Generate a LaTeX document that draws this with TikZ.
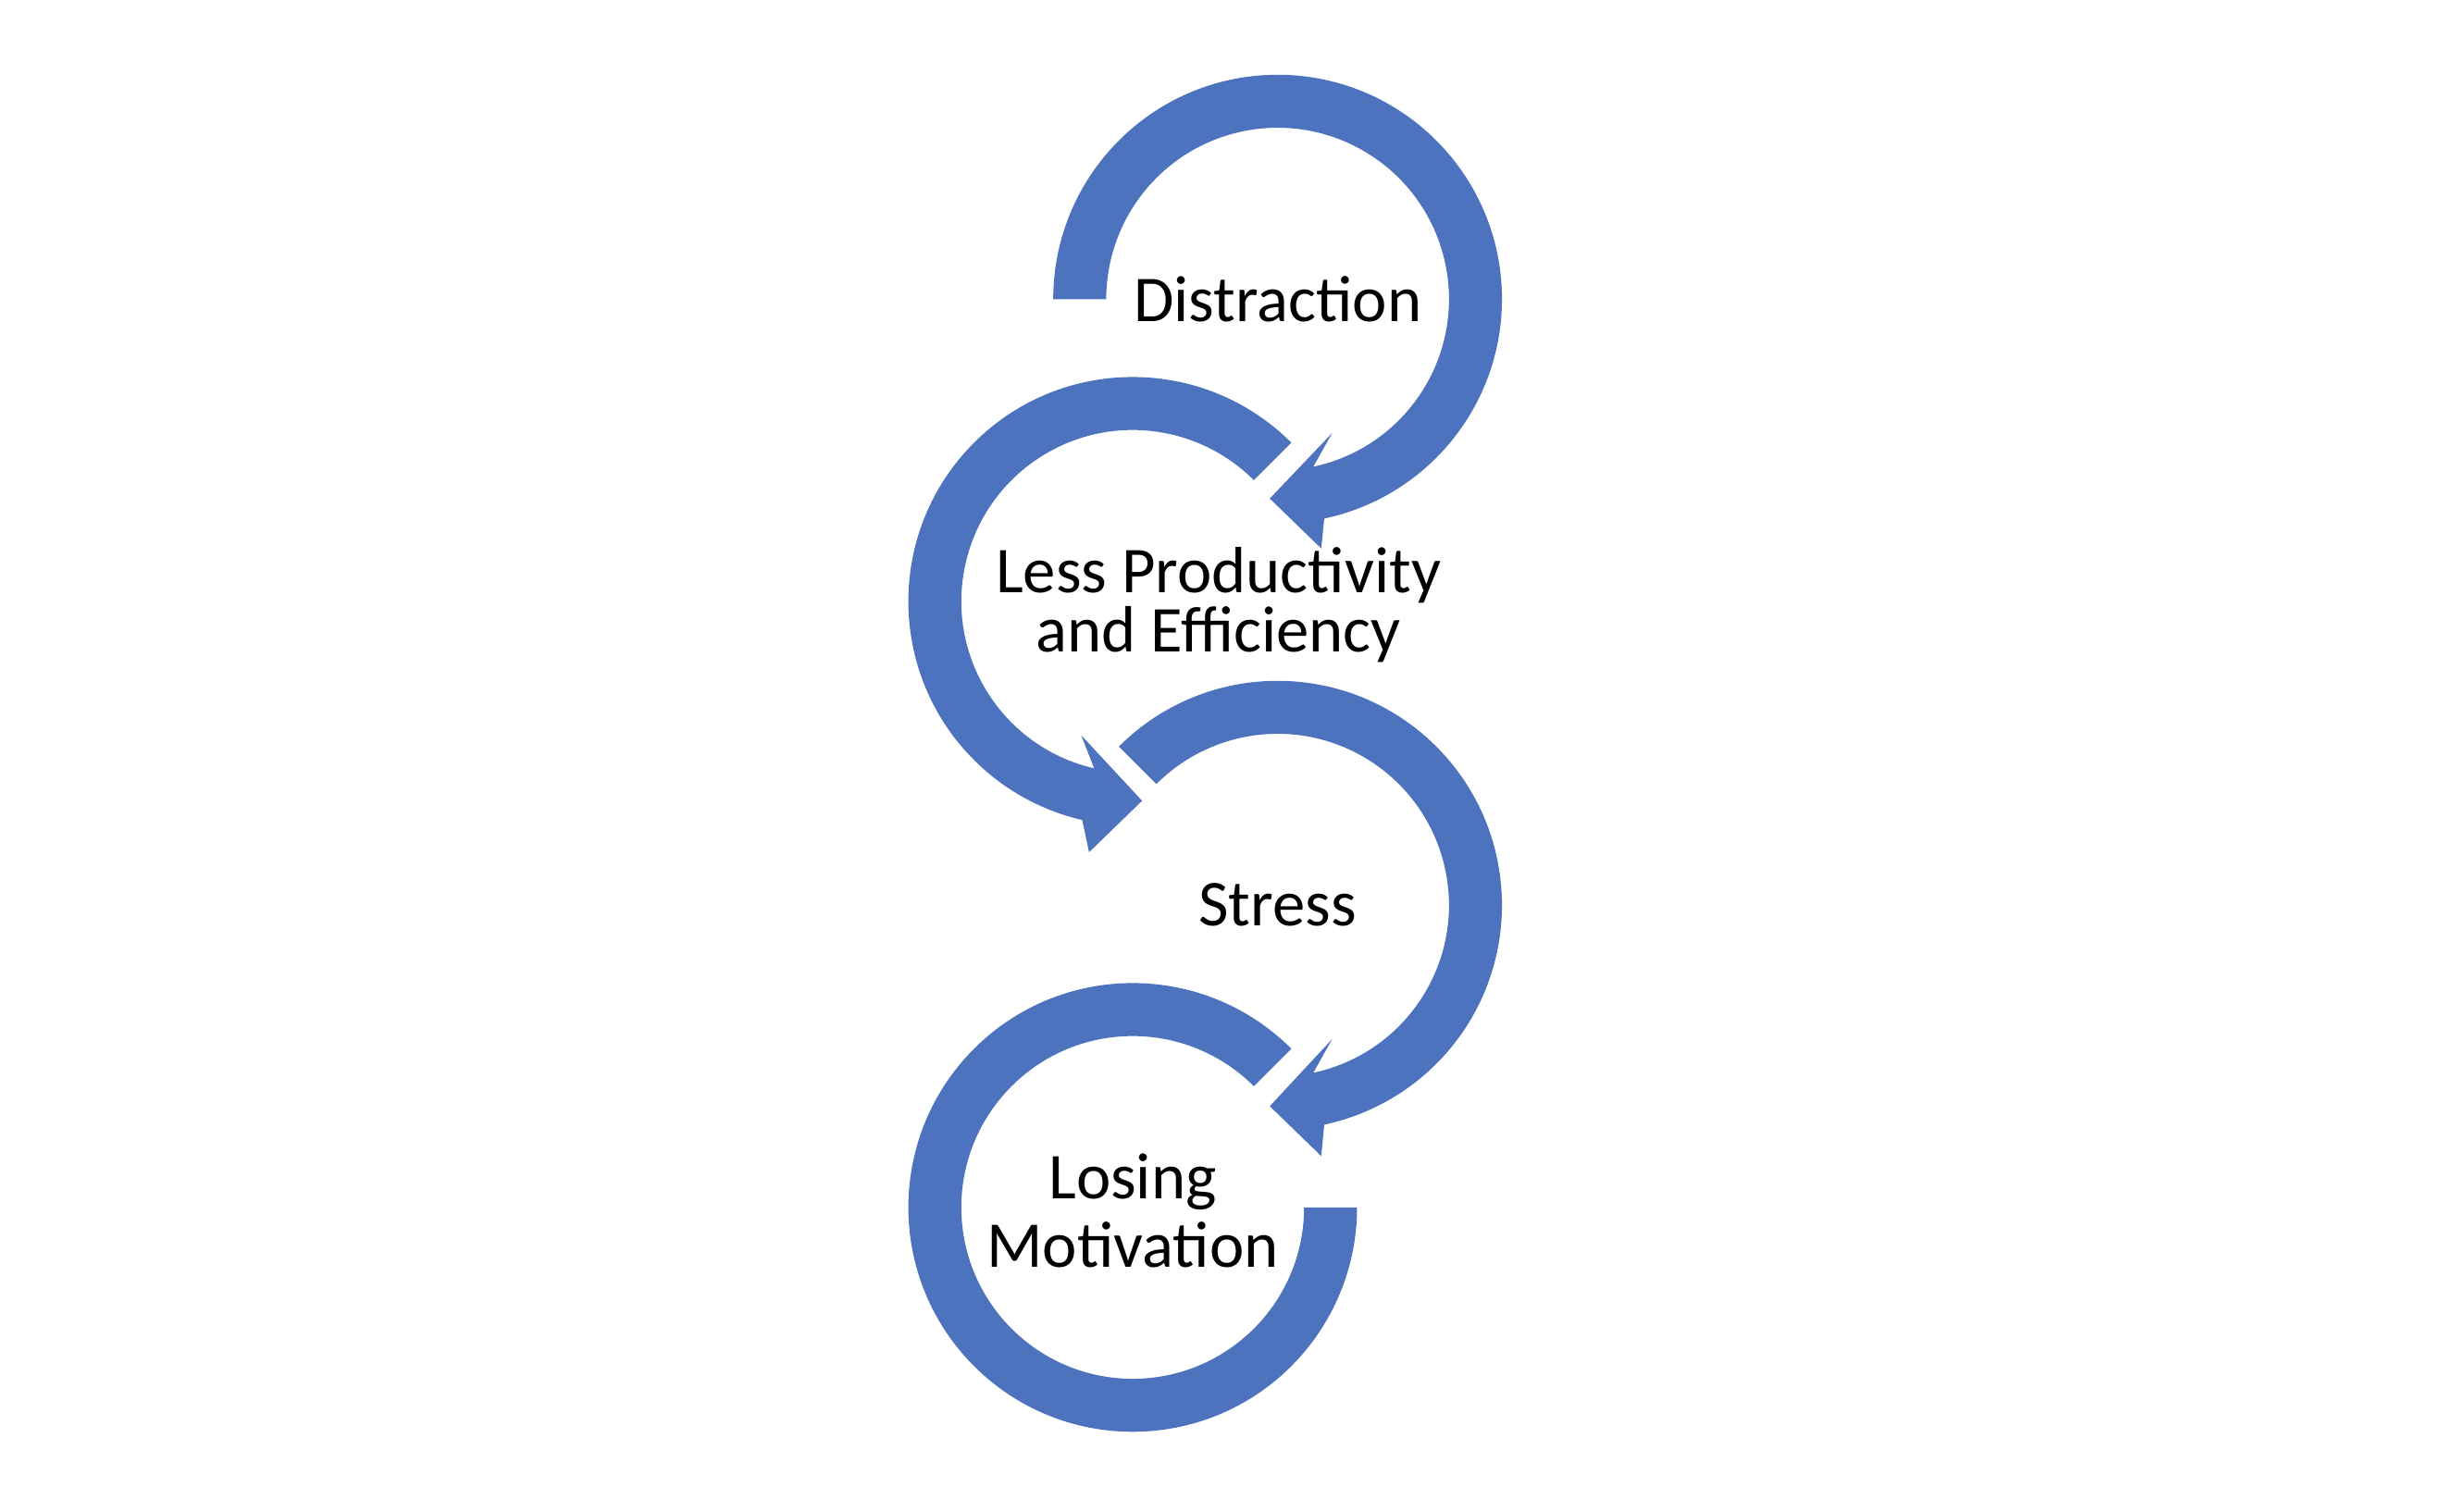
\documentclass[tikz,border=0pt]{standalone}
\usepackage{fontspec}
\setmainfont{Carlito}
\usetikzlibrary{calc}
\definecolor{band}{HTML}{4E73BE}
\begin{document}
\begin{tikzpicture}[x=1pt,y=1pt,
  band/.style={fill=band,draw=none},
  lbl/.style={font=\fontsize{42}{44}\selectfont,align=center,text=black}]
\useasboundingbox (0,0) rectangle (1568,970);
\coordinate (c1) at (820,778);
\coordinate (c2) at (727,584);
\coordinate (c3) at (820,389);
\coordinate (c4) at (727,195);
% arc 1
\fill[band] ($(c1)+(180:144)$) arc[start angle=180,end angle=-78,radius=144]
  -- (848,618) -- (815,650) -- (855,692) -- ($(c1)+(-78:110)$)
  arc[start angle=-78,end angle=180,radius=110] -- cycle;
% arc 2
\fill[band] ($(c2)+(45:144)$) arc[start angle=45,end angle=257,radius=144]
  -- (699,423) -- (733,456) -- (694,498) -- ($(c2)+(257:110)$)
  arc[start angle=257,end angle=45,radius=110] -- cycle;
% arc 3
\fill[band] ($(c3)+(135:144)$) arc[start angle=135,end angle=-78,radius=144]
  -- (848,228) -- (815,260) -- (855,303) -- ($(c3)+(-78:110)$)
  arc[start angle=-78,end angle=135,radius=110] -- cycle;
% arc 4
\fill[band] ($(c4)+(45:144)$) arc[start angle=45,end angle=360,radius=144]
  -- ($(c4)+(0:110)$) arc[start angle=360,end angle=45,radius=110] -- cycle;
\node[lbl] (t1) at (820,778) {Distraction};
\node[lbl,font=\fontsize{42}{38}\selectfont] (t2) at (782,582) {Less Productivity\\and Efficiency};
\node[lbl] (t3) at (820,389) {Stress};
\node[lbl] (t4) at (727,193) {Losing\\Motivation};
\end{tikzpicture}
\end{document}
